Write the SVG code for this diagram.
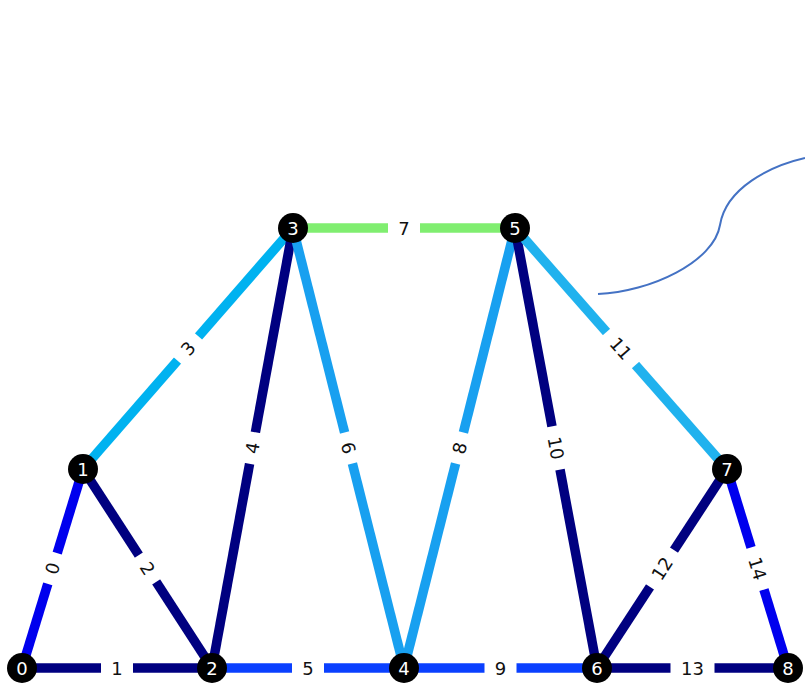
<svg xmlns="http://www.w3.org/2000/svg" width="805" height="689" viewBox="0 0 805 689">
<style>
.e{stroke-width:9.5;stroke-linecap:butt;fill:none}
.navy{stroke:#000080}
.blue{stroke:#0000ee}
.mid{stroke:#0a40ff}
.sky{stroke:#00b2f0}
.sky2{stroke:#18a0f0}
.sky3{stroke:#20b2ee}
.green{stroke:#80ee70}
.lb rect{fill:#fff}
.lb text{font-family:"DejaVu Sans",sans-serif;font-size:18px;fill:#111;text-anchor:middle;dominant-baseline:central}
.n circle{fill:#000}
.n text{font-family:"DejaVu Sans",sans-serif;font-size:18px;fill:#fff;text-anchor:middle;dominant-baseline:central}
</style>
<rect width="805" height="689" fill="#fff"/>
<g id="connectors">
<line class="e blue" x1="22" y1="668" x2="83" y2="469"/>
<line class="e navy" x1="22" y1="668" x2="212" y2="668"/>
<line class="e navy" x1="83" y1="469" x2="212" y2="668"/>
<line class="e sky" x1="83" y1="469" x2="293" y2="228"/>
<line class="e navy" x1="212" y1="668" x2="293" y2="228"/>
<line class="e mid" x1="212" y1="668" x2="404" y2="668"/>
<line class="e sky2" x1="293" y1="228" x2="404" y2="668"/>
<line class="e green" x1="293" y1="228" x2="515" y2="228"/>
<line class="e sky2" x1="404" y1="668" x2="515" y2="228"/>
<line class="e mid" x1="404" y1="668" x2="597" y2="668"/>
<line class="e navy" x1="515" y1="228" x2="597" y2="668"/>
<line class="e sky3" x1="515" y1="228" x2="727" y2="469"/>
<line class="e navy" x1="597" y1="668" x2="727" y2="469"/>
<line class="e navy" x1="597" y1="668" x2="788" y2="668"/>
<line class="e blue" x1="727" y1="469" x2="788" y2="668"/>
<path d="M598,294 C650,292 714,262 720,225 C726,188 770,166 805,158" fill="none" stroke="#4472c4" stroke-width="2"/>
<g class="lb" transform="translate(52.5,568.5) rotate(-73)"><rect x="-16" y="-14" width="32" height="28"/><text>0</text></g>
<g class="lb" transform="translate(117,668)"><rect x="-16" y="-14" width="32" height="28"/><text>1</text></g>
<g class="lb" transform="translate(147.5,568.5) rotate(57)"><rect x="-16" y="-14" width="32" height="28"/><text>2</text></g>
<g class="lb" transform="translate(188,348.5) rotate(-49)"><rect x="-16" y="-14" width="32" height="28"/><text>3</text></g>
<g class="lb" transform="translate(252.5,448) rotate(-79.6)"><rect x="-16" y="-14" width="32" height="28"/><text>4</text></g>
<g class="lb" transform="translate(308,668)"><rect x="-16" y="-14" width="32" height="28"/><text>5</text></g>
<g class="lb" transform="translate(348.5,448) rotate(75.8)"><rect x="-16" y="-14" width="32" height="28"/><text>6</text></g>
<g class="lb" transform="translate(404,228)"><rect x="-16" y="-14" width="32" height="28"/><text>7</text></g>
<g class="lb" transform="translate(459.5,448) rotate(-75.8)"><rect x="-16" y="-14" width="32" height="28"/><text>8</text></g>
<g class="lb" transform="translate(500.5,668)"><rect x="-16" y="-14" width="32" height="28"/><text>9</text></g>
<g class="lb" transform="translate(556,448) rotate(79.4)"><rect x="-22" y="-14" width="44" height="28"/><text>10</text></g>
<g class="lb" transform="translate(621,348.5) rotate(48.7)"><rect x="-22" y="-14" width="44" height="28"/><text>11</text></g>
<g class="lb" transform="translate(662,568.5) rotate(-56.8)"><rect x="-22" y="-14" width="44" height="28"/><text>12</text></g>
<g class="lb" transform="translate(692.5,668)"><rect x="-22" y="-14" width="44" height="28"/><text>13</text></g>
<g class="lb" transform="translate(757.5,568.5) rotate(73)"><rect x="-22" y="-14" width="44" height="28"/><text>14</text></g>
</g>
<g id="node0" class="n"><circle cx="22" cy="668" r="15"/><text x="22" y="668">0</text></g>
<g id="node1" class="n"><circle cx="83" cy="469" r="15"/><text x="83" y="469">1</text></g>
<g id="node2" class="n"><circle cx="212" cy="668" r="15"/><text x="212" y="668">2</text></g>
<g id="node3" class="n"><circle cx="293" cy="228" r="15"/><text x="293" y="228">3</text></g>
<g id="node4" class="n"><circle cx="404" cy="668" r="15"/><text x="404" y="668">4</text></g>
<g id="node5" class="n"><circle cx="515" cy="228" r="15"/><text x="515" y="228">5</text></g>
<g id="node6" class="n"><circle cx="597" cy="668" r="15"/><text x="597" y="668">6</text></g>
<g id="node7" class="n"><circle cx="727" cy="469" r="15"/><text x="727" y="469">7</text></g>
<g id="node8" class="n"><circle cx="788" cy="668" r="15"/><text x="788" y="668">8</text></g>
</svg>
